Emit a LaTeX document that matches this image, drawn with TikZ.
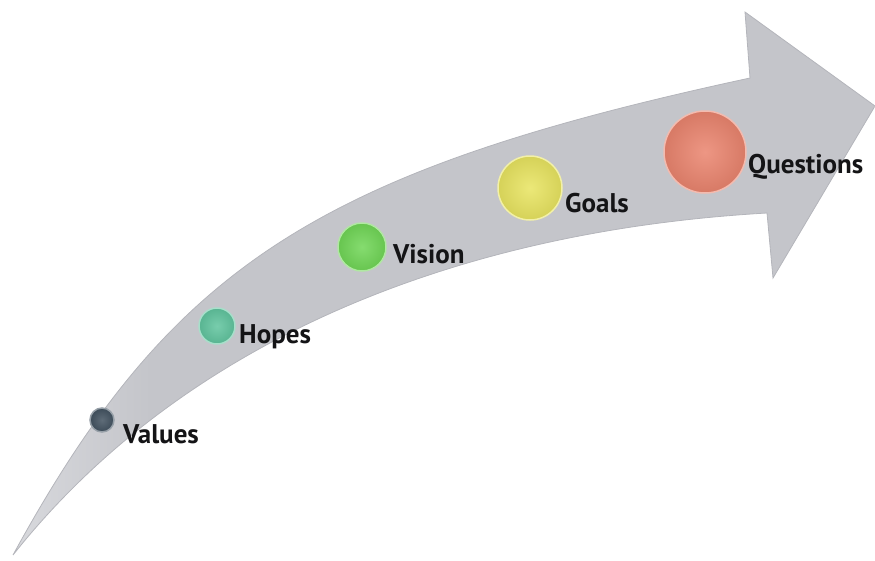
\documentclass[tikz,border=0pt]{standalone}
\usepackage{fontspec}
\setmainfont{PT Sans}
\definecolor{arrowgrey}{RGB}{196,197,202}
\definecolor{arrowlight}{RGB}{216,217,221}
\definecolor{edgegrey}{RGB}{180,181,187}
\definecolor{labeltext}{RGB}{20,20,22}
\definecolor{valuescol}{RGB}{66,82,96}
\definecolor{hopescol}{RGB}{96,196,158}
\definecolor{visioncol}{RGB}{112,214,86}
\definecolor{goalscol}{RGB}{232,228,96}
\definecolor{questcol}{RGB}{234,132,110}
\pgfdeclarehorizontalshading{arrowshade}{100bp}{color(0bp)=(arrowlight); color(25bp)=(arrowlight); color(33bp)=(arrowgrey); color(100bp)=(arrowgrey)}

\begin{document}
\begin{tikzpicture}[x=1pt, y=-1pt,
        dot/.style={circle, inner sep=0pt, shade, inner color=#1!85!white, outer color=#1!92!black, draw=#1!55!white, line width=1.5pt},
        lbl/.style={anchor=base west, inner sep=0pt, font=\bfseries\fontsize{27}{29}\selectfont, text=labeltext}
    ]
    \useasboundingbox (0,0) rectangle (875,560);
    % curved arrow
    \shadedraw[draw=edgegrey, line width=0.8pt, shading=arrowshade]
        (13,555) .. controls (171,266) and (318,171) .. (750,78) -- (745,12) -- (875,106)
        -- (773,278) -- (767,213) .. controls (437,232) and (174,352) .. (13,555) -- cycle;

    % steps
    \node[dot=valuescol, minimum size=24pt] (values) at (102,420) {};
    \node[dot=hopescol, minimum size=36pt] (hopes) at (217,326) {};
    \node[dot=visioncol, minimum size=48pt] (vision) at (362,247) {};
    \node[dot=goalscol, minimum size=64pt] (goals) at (530,188) {};
    \node[dot=questcol, minimum size=82pt] (questions) at (705,152) {};

    \node[lbl] (valueslbl) at (123,443) {Values};
    \node[lbl] (hopeslbl) at (239,343) {Hopes};
    \node[lbl] (visionlbl) at (393,263) {Vision};
    \node[lbl] (goalslbl) at (565,212) {Goals};
    \node[lbl] (questlbl) at (748,173) {Questions};
\end{tikzpicture}
\end{document}
